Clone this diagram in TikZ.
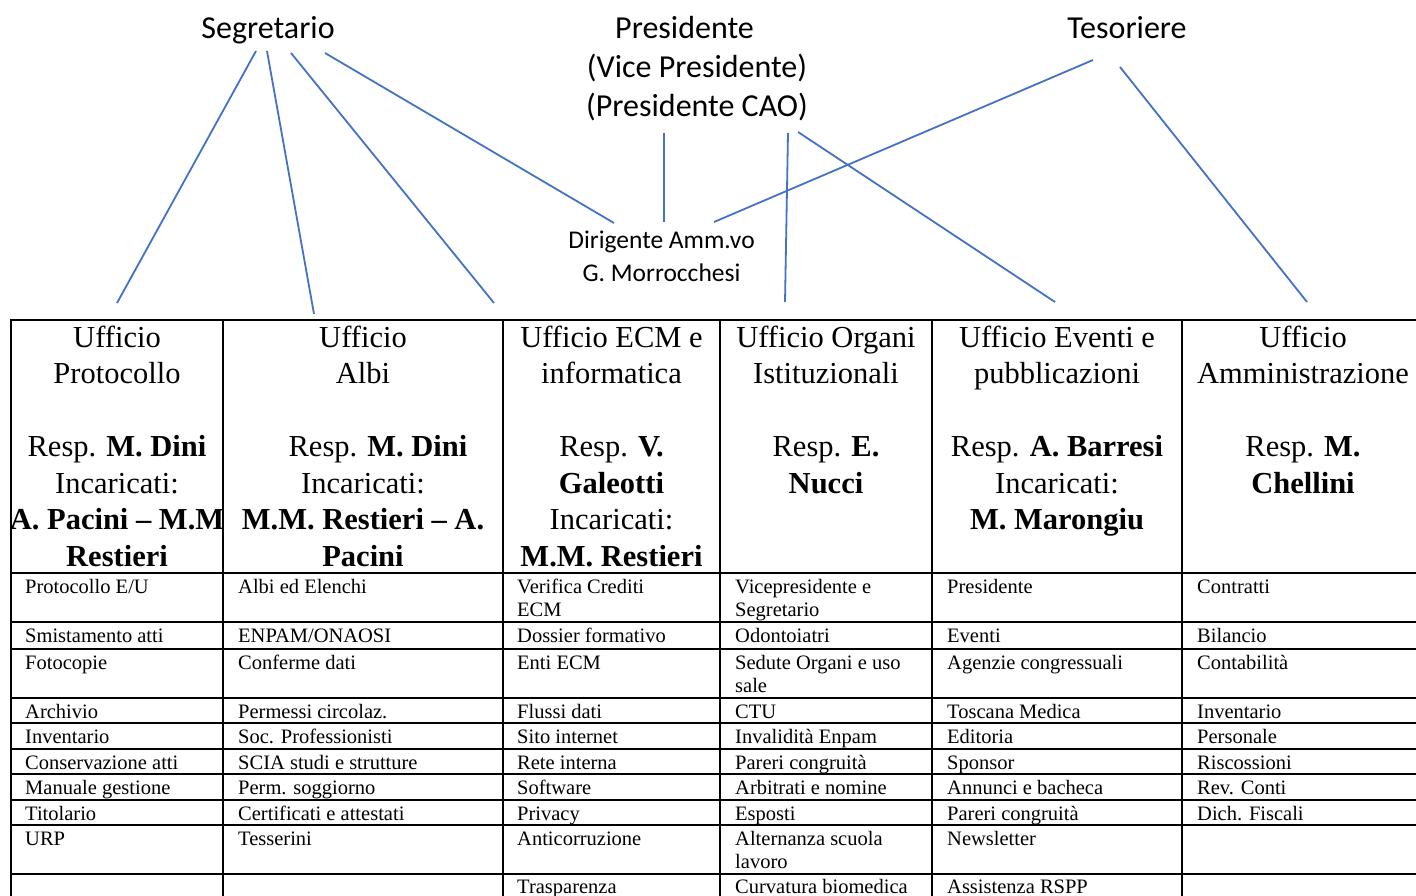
\documentclass[tikz,border=0pt]{standalone}
\usepackage{fontspec}
\setmainfont{Liberation Serif}
\newfontfamily\calib{Carlito}
\definecolor{connblue}{HTML}{4472C4}
\newcommand\hl[4]{\node[hd] (#1) at (#2,{347+36.5*(#3-1)}) {#4};}
\newcommand\bc[4]{\node[bd] (#1) at (#2,#3) {#4};}
\begin{document}
\begin{tikzpicture}[x=1pt,y=-1pt,
  lbl/.style={font=\calib\fontsize{32}{39}\selectfont, anchor=base, inner sep=0pt},
  dlbl/.style={font=\calib\fontsize{25.5}{33}\selectfont, anchor=base, inner sep=0pt},
  hd/.style={font=\fontsize{30.5}{36.5}\selectfont, anchor=base, inner sep=0pt},
  bd/.style={font=\fontsize{20.5}{23}\selectfont, anchor=base west, inner sep=0pt},
  conn/.style={draw=connblue, line width=1.8pt},
  gridline/.style={draw=black, line width=2.4pt}]
\useasboundingbox (0,0) rectangle (1416,896);
\clip (0,0) rectangle (1416,896);
\fill[white] (0,0) rectangle (1416,896);

% top labels
\node[lbl] (segr) at (268,39) {Segretario};
\node[lbl] (pres1) at (684.5,39) {Presidente};
\node[lbl] (pres2) at (697,78) {(Vice Presidente)};
\node[lbl] (pres3) at (697,117) {(Presidente CAO)};
\node[lbl] (teso) at (1127,39) {Tesoriere};
\node[dlbl] (dir1) at (661.5,248) {Dirigente Amm.vo};
\node[dlbl] (dir2) at (661.5,281) {G. Morrocchesi};

% connector endpoints
\coordinate (s1a) at (256,51);  \coordinate (s1b) at (117,303);
\coordinate (s2a) at (267,51);  \coordinate (s2b) at (314,314);
\coordinate (s3a) at (291,53);  \coordinate (s3b) at (494,303);
\coordinate (s4a) at (325,53);  \coordinate (s4b) at (614,223);
\coordinate (p1a) at (664,133); \coordinate (p1b) at (664,222);
\coordinate (p2a) at (788,133); \coordinate (p2b) at (785,302);
\coordinate (p3a) at (798,132); \coordinate (p3b) at (1055,302);
\coordinate (t1a) at (1093,60); \coordinate (t1b) at (714,222);
\coordinate (t2a) at (1120,67); \coordinate (t2b) at (1307,302);
\draw[conn] (s1a) -- (s1b);
\draw[conn] (s2a) -- (s2b);
\draw[conn] (s3a) -- (s3b);
\draw[conn] (s4a) -- (s4b);
\draw[conn] (p1a) -- (p1b);
\draw[conn] (p2a) -- (p2b);
\draw[conn] (p3a) -- (p3b);
\draw[conn] (t1a) -- (t1b);
\draw[conn] (t2a) -- (t2b);

% table grid
\foreach \yy in {320,573,622,649,698,723,749,774,800,825,874}
  \draw[gridline] (10,\yy) -- (1430,\yy);
\foreach \xx in {11,223,503,720,932,1182}
  \draw[gridline] (\xx,319) -- (\xx,910);

% header cells
\begin{scope}
\clip (12,321) rectangle (222,572);
\hl{h11}{117}{1}{Ufficio}
\hl{h12}{117}{2}{Protocollo}
\hl{h14}{117}{4}{Resp. \textbf{M. Dini}}
\hl{h15}{117}{5}{Incaricati:}
\hl{h16}{117}{6}{\textbf{A. Pacini – M.M}}
\hl{h17}{117}{7}{\textbf{Restieri}}
\end{scope}
\hl{h21}{363}{1}{Ufficio}
\hl{h22}{363}{2}{Albi}
\hl{h24}{378}{4}{Resp. \textbf{M. Dini}}
\hl{h25}{363}{5}{Incaricati:}
\hl{h26}{363}{6}{\textbf{M.M. Restieri – A.}}
\hl{h27}{363}{7}{\textbf{Pacini}}
\hl{h31}{611.5}{1}{Ufficio ECM e}
\hl{h32}{611.5}{2}{informatica}
\hl{h34}{611.5}{4}{Resp. \textbf{V.}}
\hl{h35}{611.5}{5}{\textbf{Galeotti}}
\hl{h36}{611.5}{6}{Incaricati:}
\hl{h37}{611.5}{7}{\textbf{M.M. Restieri}}
\hl{h41}{826}{1}{Ufficio Organi}
\hl{h42}{826}{2}{Istituzionali}
\hl{h44}{826}{4}{Resp. \textbf{E.}}
\hl{h45}{826}{5}{\textbf{Nucci}}
\hl{h51}{1057}{1}{Ufficio Eventi e}
\hl{h52}{1057}{2}{pubblicazioni}
\hl{h54}{1057}{4}{Resp. \textbf{A. Barresi}}
\hl{h55}{1057}{5}{Incaricati:}
\hl{h56}{1057}{6}{\textbf{M. Marongiu}}
\hl{h61}{1303}{1}{Ufficio}
\hl{h62}{1303}{2}{Amministrazione}
\hl{h64}{1303}{4}{Resp. \textbf{M.}}
\hl{h65}{1303}{5}{\textbf{Chellini}}

% body: column 1
\bc{a1}{25}{593.5}{Protocollo E/U}
\bc{a2}{25}{642.5}{Smistamento atti}
\bc{a3}{25}{669.5}{Fotocopie}
\bc{a4}{25}{718.5}{Archivio}
\bc{a5}{25}{743.5}{Inventario}
\bc{a6}{25}{769.5}{Conservazione atti}
\bc{a7}{25}{794.5}{Manuale gestione}
\bc{a8}{25}{820.5}{Titolario}
\bc{a9}{25}{845.5}{URP}
% column 2
\bc{b1}{238}{593.5}{Albi ed Elenchi}
\bc{b2}{238}{642.5}{ENPAM/ONAOSI}
\bc{b3}{238}{669.5}{Conferme dati}
\bc{b4}{238}{718.5}{Permessi circolaz.}
\bc{b5}{238}{743.5}{Soc. Professionisti}
\bc{b6}{238}{769.5}{SCIA studi e strutture}
\bc{b7}{238}{794.5}{Perm. soggiorno}
\bc{b8}{238}{820.5}{Certificati e attestati}
\bc{b9}{238}{845.5}{Tesserini}
% column 3
\bc{c1}{517}{593.5}{Verifica Crediti}
\bc{c1b}{517}{616.5}{ECM}
\bc{c2}{517}{642.5}{Dossier formativo}
\bc{c3}{517}{669.5}{Enti ECM}
\bc{c4}{517}{718.5}{Flussi dati}
\bc{c5}{517}{743.5}{Sito internet}
\bc{c6}{517}{769.5}{Rete interna}
\bc{c7}{517}{794.5}{Software}
\bc{c8}{517}{820.5}{Privacy}
\bc{c9}{517}{845.5}{Anticorruzione}
\bc{c10}{517}{893}{Trasparenza}
% column 4
\bc{d1}{735}{593.5}{Vicepresidente e}
\bc{d1b}{735}{616.5}{Segretario}
\bc{d2}{735}{642.5}{Odontoiatri}
\bc{d3}{735}{669.5}{Sedute Organi e uso}
\bc{d3b}{735}{692.5}{sale}
\bc{d4}{735}{718.5}{CTU}
\bc{d5}{735}{743.5}{Invalidità Enpam}
\bc{d6}{735}{769.5}{Pareri congruità}
\bc{d7}{735}{794.5}{Arbitrati e nomine}
\bc{d8}{735}{820.5}{Esposti}
\bc{d9}{735}{845.5}{Alternanza scuola}
\bc{d9b}{735}{868.5}{lavoro}
\bc{d10}{735}{893}{Curvatura biomedica}
% column 5
\bc{e1}{947}{593.5}{Presidente}
\bc{e2}{947}{642.5}{Eventi}
\bc{e3}{947}{669.5}{Agenzie congressuali}
\bc{e4}{947}{718.5}{Toscana Medica}
\bc{e5}{947}{743.5}{Editoria}
\bc{e6}{947}{769.5}{Sponsor}
\bc{e7}{947}{794.5}{Annunci e bacheca}
\bc{e8}{947}{820.5}{Pareri congruità}
\bc{e9}{947}{845.5}{Newsletter}
\bc{e10}{947}{893}{Assistenza RSPP}
% column 6
\bc{f1}{1197}{593.5}{Contratti}
\bc{f2}{1197}{642.5}{Bilancio}
\bc{f3}{1197}{669.5}{Contabilità}
\bc{f4}{1197}{718.5}{Inventario}
\bc{f5}{1197}{743.5}{Personale}
\bc{f6}{1197}{769.5}{Riscossioni}
\bc{f7}{1197}{794.5}{Rev. Conti}
\bc{f8}{1197}{820.5}{Dich. Fiscali}
\end{tikzpicture}
\end{document}
